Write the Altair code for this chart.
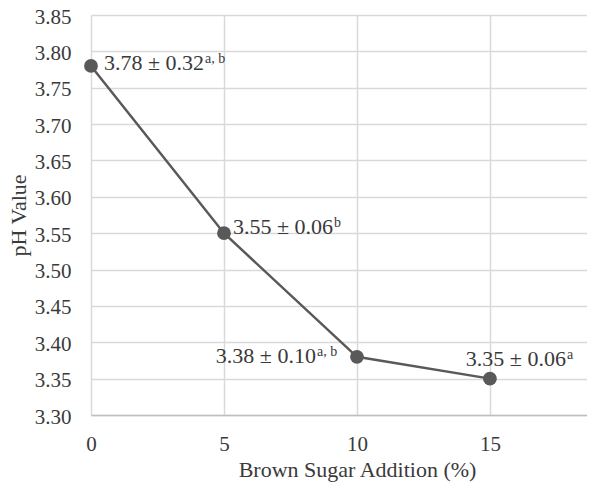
import altair as alt
import pandas as pd

sugar = [0, 5, 10, 15]
ph = [3.78, 3.55, 3.38, 3.35]
main_labels = ["3.78 ± 0.32", "3.55 ± 0.06", "3.38 ± 0.10", "3.35 ± 0.06"]
sup_labels = ["a, b", "b", "a, b", "a"]
y_ticks = [3.30, 3.35, 3.40, 3.45, 3.50, 3.55, 3.60, 3.65, 3.70, 3.75, 3.80, 3.85]
x_ticks = [0, 5, 10, 15]

df = pd.DataFrame({"idx": range(4), "sugar": sugar, "ph": ph,
                   "main": main_labels, "sup": sup_labels})

FONT = "Liberation Serif"
TXT = "#3a3a3a"
DARK = "#595959"

x = alt.X("sugar:Q",
          scale=alt.Scale(domain=[0, 18.65], nice=False, zero=False),
          axis=alt.Axis(values=x_ticks, title="Brown Sugar Addition (%)",
                        grid=True, gridColor="#d9d9d9", gridWidth=1.5,
                        domainColor="#bfbfbf", domainWidth=1.5,
                        ticks=False, tickSize=0, labelPadding=35,
                        labelBaseline="alphabetic", labelFlush=False,
                        labelOverlap=False,
                        labelFont=FONT, labelFontSize=21, labelColor=TXT,
                        titleFont=FONT, titleFontSize=22, titleColor=TXT,
                        titleFontWeight="normal", titleX=266, titleY=54,
                        titleBaseline="middle", titleAlign="center"))
y = alt.Y("ph:Q",
          scale=alt.Scale(domain=[3.30, 3.85], nice=False, zero=False),
          axis=alt.Axis(values=y_ticks, format=".2f", title="pH Value",
                        grid=True, gridColor="#d9d9d9", gridWidth=1.5,
                        domain=False, ticks=False, tickSize=0, labelPadding=20,
                        labelOverlap=False, labelFlush=False, labelOffset=2,
                        labelFont=FONT, labelFontSize=21, labelColor=TXT,
                        titleFont=FONT, titleFontSize=22, titleColor=TXT,
                        titleFontWeight="normal", titleAngle=-90,
                        titleX=-73, titleY=200, titleBaseline="middle",
                        titleAlign="center"))

base = alt.Chart(df)
line = base.mark_line(color=DARK, strokeWidth=2.5).encode(x=x, y=y)
pts = base.mark_point(filled=True, color=DARK, size=190, opacity=1).encode(x=x, y=y)

# junction x-offset (end of main text / start of superscript) and baseline offset
offsets = [(113, 4), (109, 1), (-41, 6), (76, -13)]
layers = [line, pts]
for i, (jx, by) in enumerate(offsets):
    sub = base.transform_filter(alt.datum.idx == i)
    layers.append(sub.mark_text(font=FONT, fontSize=22, color=TXT, align="right",
                                baseline="alphabetic", dx=jx, dy=by)
                  .encode(x=x, y=y, text="main:N"))
    layers.append(sub.mark_text(font=FONT, fontSize=14, color=TXT, align="left",
                                baseline="alphabetic", dx=jx + 1, dy=by - 7)
                  .encode(x=x, y=y, text="sup:N"))

chart = alt.layer(*layers).properties(
    width=496, height=400,
    autosize=alt.AutoSizeParams(type="none"),
    padding={"left": 83, "top": 7, "right": 0, "bottom": 67},
).configure_view(stroke=None)

chart.save("out.html", embed_options={"renderer": "svg", "actions": False})
